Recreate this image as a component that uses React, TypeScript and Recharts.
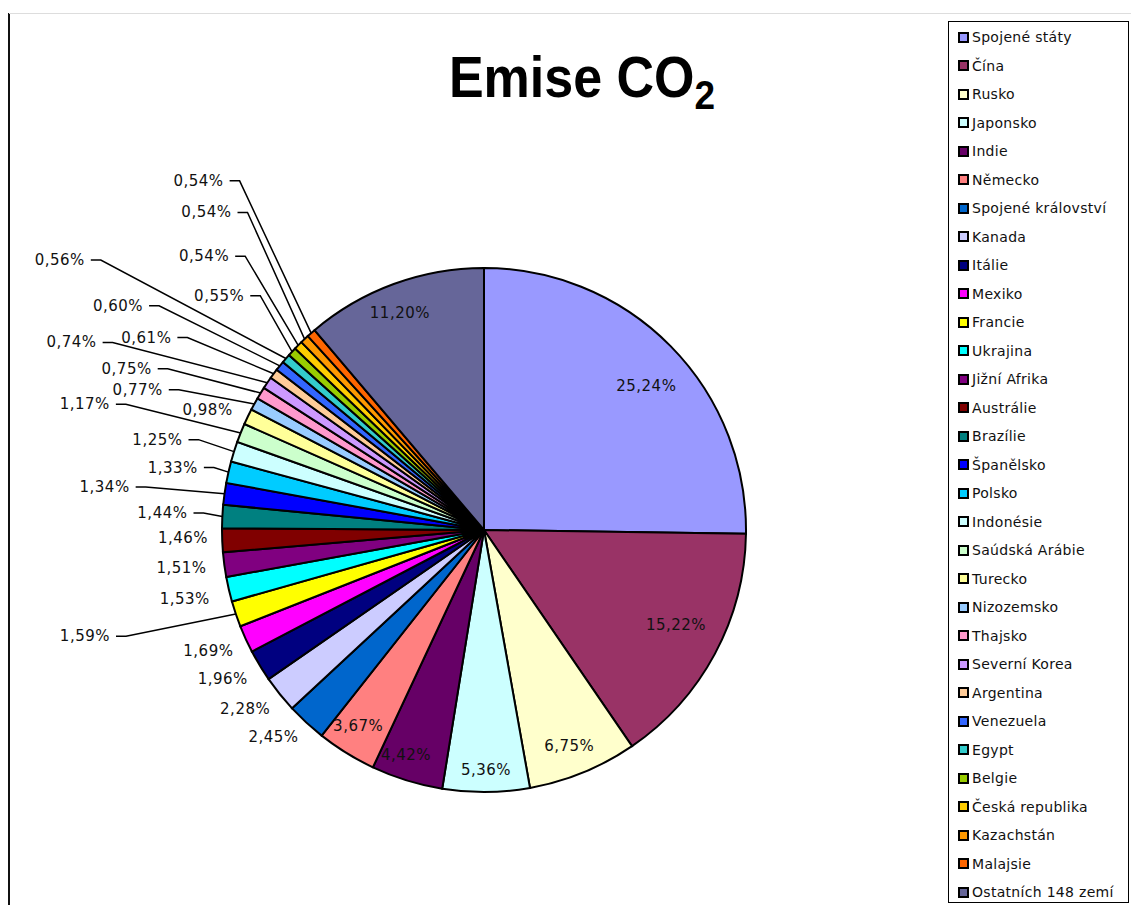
import { PieChart, Pie, Cell, Legend } from 'recharts'

const NAMES = [
  'Spojené státy', 'Čína', 'Rusko', 'Japonsko', 'Indie', 'Německo', 'Spojené království',
  'Kanada', 'Itálie', 'Mexiko', 'Francie', 'Ukrajina', 'Jižní Afrika', 'Austrálie', 'Brazílie',
  'Španělsko', 'Polsko', 'Indonésie', 'Saúdská Arábie', 'Turecko', 'Nizozemsko', 'Thajsko',
  'Severní Korea', 'Argentina', 'Venezuela', 'Egypt', 'Belgie', 'Česká republika', 'Kazachstán',
  'Malajsie', 'Ostatních 148 zemí',
]

const SHARES = [
  25.24, 15.22, 6.75, 5.36, 4.42, 3.67, 2.45, 2.28, 1.96, 1.69, 1.59, 1.53, 1.51, 1.46, 1.44,
  1.34, 1.33, 1.25, 1.17, 0.98, 0.77, 0.75, 0.74, 0.61, 0.6, 0.56, 0.55, 0.54, 0.54, 0.54, 11.2,
]

const COLORS = [
  '#9999ff', '#993366', '#ffffcc', '#ccffff', '#660066', '#ff8080', '#0066cc', '#ccccff',
  '#000080', '#ff00ff', '#ffff00', '#00ffff', '#800080', '#800000', '#008080', '#0000ff',
  '#00ccff', '#ccffff', '#ccffcc', '#ffff99', '#99ccff', '#ff99cc', '#cc99ff', '#ffcc99',
  '#3366ff', '#33cccc', '#99cc00', '#ffcc00', '#ff9900', '#ff6600', '#666699',
]

// label layout: negative = inside (px in from rim), positive = outside (px out from rim)
const LABEL_PUSH = [
  -45, -48, -30, -22, -24, -29, 12, 12, 12, 11, 121, 15, 12, 8, 29,
  89, 25, 47, 127, 11, 83, 102, 163, 100, 141, 215, 69, 108, 140, 170, -29,
]
// small clockwise turn of the label off the slice middle, degrees
const LABEL_TURN = [
  3, -2, 0.7, 0, 2, 1, -1.8, -1.9, -1.7, -1.8, 2.6, -1.4, -0.3, 0.5, 0.4,
  -0.9, -0.2, -0.4, -2.9, 0.4, -4.8, -5.2, -8, -4.5, -5, -6.4, 2.2, 2.9, 5.4, 5.2, -1,
]

const data = NAMES.map((name, i) => ({ name, value: SHARES[i], fill: COLORS[i] }))

const RAD = Math.PI / 180
const FONT = '"DejaVu Sans", Verdana, sans-serif'

function renderLabel(props: any) {
  const { cx, cy, midAngle, outerRadius, index, value } = props
  const push = LABEL_PUSH[index]
  const ang = midAngle - LABEL_TURN[index]
  const pt = (r: number, a: number) => ({ x: cx + r * Math.cos(-a * RAD), y: cy + r * Math.sin(-a * RAD) })
  const text = Number(value).toFixed(2).replace('.', ',') + '%'
  const style = { fontFamily: FONT, fontSize: 15, fill: '#111', letterSpacing: 0.5 }
  if (push < 0) {
    const p = pt(outerRadius + push, ang)
    return (
      <text x={p.x} y={p.y} textAnchor="middle" dominantBaseline="central" style={style}>
        {text}
      </text>
    )
  }
  const p = pt(outerRadius + push, ang)
  const e = pt(outerRadius, midAngle)
  return (
    <g>
      {push > 20 && (
        <polyline
          points={`${p.x},${p.y} ${p.x + 10},${p.y} ${e.x},${e.y}`}
          stroke="#000"
          strokeWidth={1.5}
          fill="none"
        />
      )}
      <text x={p.x - 6} y={p.y} textAnchor="end" dominantBaseline="central" style={style}>
        {text}
      </text>
    </g>
  )
}

function LegendBox({ payload }: any) {
  return (
    <div style={{ paddingTop: 1 }}>
      {(payload || []).map((entry: any, i: number) => (
        <div key={i} style={{ height: 28.5, display: 'flex', alignItems: 'center', paddingLeft: 9 }}>
          <span
            style={{
              width: 7,
              height: 7,
              background: entry.color,
              border: '2px solid #000',
              marginRight: 3,
              flex: 'none',
            }}
          />
          <span style={{ fontFamily: FONT, fontSize: 14, color: '#111', letterSpacing: 0.3, whiteSpace: 'nowrap' }}>
            {entry.value}
          </span>
        </div>
      ))}
    </div>
  )
}

export default function App() {
  return (
    <div style={{ position: 'absolute', left: 0, top: 0, width: 1131, height: 905, background: '#fff' }}>
      <div style={{ position: 'absolute', left: 8, top: 13, width: 2, height: 892, background: '#111' }} />
      <div style={{ position: 'absolute', left: 9, top: 13, width: 1122, height: 1, background: '#ddd' }} />
      <PieChart width={1131} height={905} margin={{ top: 0, right: 0, bottom: 0, left: 0 }}>
        <Pie
          data={data}
          dataKey="value"
          nameKey="name"
          cx={484}
          cy={530}
          outerRadius={262}
          startAngle={90}
          endAngle={-270}
          stroke="#000"
          strokeWidth={2}
          label={renderLabel}
          labelLine={false}
          isAnimationActive={false}
        >
          {data.map((d, i) => (
            <Cell key={i} fill={d.fill} />
          ))}
        </Pie>
        <Legend
          layout="vertical"
          align="right"
          verticalAlign="top"
          content={LegendBox}
          itemSorter={(item: any) => NAMES.indexOf(item.value)}
          wrapperStyle={{
            left: 948,
            top: 21,
            width: 181,
            height: 882,
            border: '1px solid #000',
            boxSizing: 'border-box',
            background: '#fff',
          }}
        />
      </PieChart>
      <div
        style={{
          position: 'absolute',
          left: 382,
          top: 53,
          width: 400,
          textAlign: 'center',
          fontFamily: '"Liberation Sans", Arial, sans-serif',
          fontWeight: 'bold',
          fontSize: 52,
          lineHeight: '52px',
          color: '#000',
          transform: 'scaleY(1.1)',
          transformOrigin: '50% 44px',
        }}
      >
        Emise CO<span style={{ fontSize: 37, position: 'relative', top: 11 }}>2</span>
      </div>
    </div>
  )
}
